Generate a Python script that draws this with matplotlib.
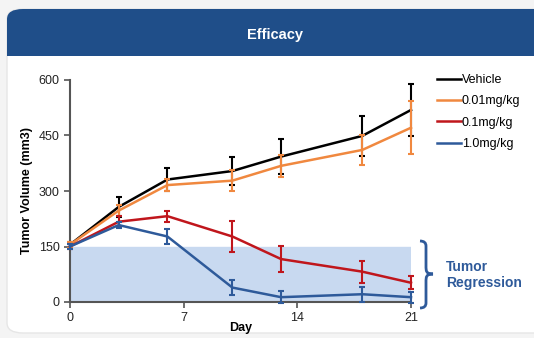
import matplotlib.pyplot as plt
from matplotlib.patches import FancyBboxPatch, Rectangle, PathPatch
from matplotlib.path import Path
from matplotlib.lines import Line2D

plt.rcParams['font.family'] = ['Liberation Sans', 'DejaVu Sans']

days = [0, 3, 6, 10, 13, 18, 21]
series = ['Vehicle', '0.01mg/kg', '0.1mg/kg', '1.0mg/kg']
vehicle = [155, 257, 331, 354, 393, 449, 519]
vehicle_err = [8, 27, 31, 39, 47, 54, 70]
low = [155, 247, 316, 328, 368, 411, 471]
low_err = [8, 15, 16, 28, 30, 40, 72]
mid = [150, 217, 232, 177, 116, 82, 52]
mid_err = [6, 15, 15, 42, 36, 30, 18]
high = [150, 208, 177, 39, 13, 21, 13]
high_err = [6, 8, 20, 20, 17, 20, 15]
colors = ['#000000', '#f0883f', '#c0161c', '#2e5a9a']

W, H = 534, 338
fig = plt.figure(figsize=(W / 100, H / 100), dpi=100)
fig.patch.set_facecolor('#f4f4f4')


def box(x0, y0, x1, y1):
    # pixel box (top-left origin) -> figure fraction
    return x0 / W, 1 - y1 / H, (x1 - x0) / W, (y1 - y0) / H


def pt(px, py):
    return px / W, 1 - py / H


x, y, w, h = box(7, 9, 560, 333)
fig.patches.append(FancyBboxPatch((x, y), w, h, boxstyle='round,pad=0,rounding_size=0.03',
                                  transform=fig.transFigure, fc='white', ec='#e6e6e6', lw=1,
                                  zorder=-3))
x, y, w, h = box(7, 9, 560, 56)
fig.patches.append(FancyBboxPatch((x, y), w, h, boxstyle='round,pad=0,rounding_size=0.03',
                                  transform=fig.transFigure, fc='#1f4e89', ec='none', zorder=-2))
x, y, w, h = box(7, 40, 560, 56)
fig.patches.append(Rectangle((x, y), w, h, transform=fig.transFigure, fc='#1f4e89', ec='none',
                             zorder=-2))
fig.text(275 / W, 1 - 35 / H, 'Efficacy', color='white', fontsize=10.5, fontweight='bold',
         ha='center', va='center')

ax = fig.add_axes([70 / W, 1 - 302 / H, (411 - 70) / W, (302 - 80) / H])
ax.set_zorder(2)
ax.set_facecolor('none')
ax.axhspan(0, 150, color='#c8d9f0', zorder=0)

data = [(vehicle, vehicle_err), (low, low_err), (mid, mid_err), (high, high_err)]
for i in [1, 0, 2, 3]:
    vals, err = data[i]
    ax.errorbar(days, vals, yerr=err, color=colors[i], lw=1.8, elinewidth=1.5,
                capsize=2.5, capthick=1.5, zorder=3 + i, clip_on=False)

ax.set_xlim(0, 21)
ax.set_ylim(0, 600)
ax.set_xticks([0, 7, 14, 21])
ax.set_yticks([0, 150, 300, 450, 600])
for s in ['top', 'right']:
    ax.spines[s].set_visible(False)
for s in ['left', 'bottom']:
    ax.spines[s].set_color('#555555')
    ax.spines[s].set_linewidth(1.5)
ax.tick_params(colors='#555555', labelcolor='#222222', labelsize=9, length=4, width=1.2)
ax.set_xlabel('Day', fontsize=9, fontweight='bold', labelpad=-2)
ax.set_ylabel('Tumor Volume (mm3)', fontsize=9, fontweight='bold', labelpad=4)

handles = [Line2D([], [], color=c, lw=1.8) for c in colors]
ax.legend(handles, series, loc='upper left',
          bbox_to_anchor=(432 / W, 1 - 69 / H), bbox_transform=fig.transFigure,
          frameon=False, fontsize=9, handlelength=1.9, handletextpad=0.1,
          labelspacing=0.75, borderaxespad=0)

# curly brace for the regression zone
x0, x1, xm = 420, 426, 433
yt, yb, ym = 241, 308, 274
verts = [pt(x0, yt), pt(x1, yt), pt(x1, yt + 5), pt(x1, ym - 8),
         pt(x1, ym - 3), pt(x1, ym), pt(xm, ym),
         pt(x1, ym), pt(x1, ym + 3), pt(x1, ym + 8),
         pt(x1, yb - 5), pt(x1, yb), pt(x0, yb)]
codes = [Path.MOVETO, Path.CURVE3, Path.CURVE3, Path.LINETO,
         Path.CURVE4, Path.CURVE4, Path.CURVE4,
         Path.CURVE4, Path.CURVE4, Path.CURVE4,
         Path.LINETO, Path.CURVE3, Path.CURVE3]
fig.patches.append(PathPatch(Path(verts, codes), transform=fig.transFigure, fc='none',
                             ec='#2e5a9a', lw=2))
fig.text(446 / W, 1 - 275 / H, 'Tumor\nRegression', fontsize=10, fontweight='bold',
         color='#2e5a9a', ha='left', va='center', linespacing=1.15)

fig.savefig('out.png', dpi=100)
